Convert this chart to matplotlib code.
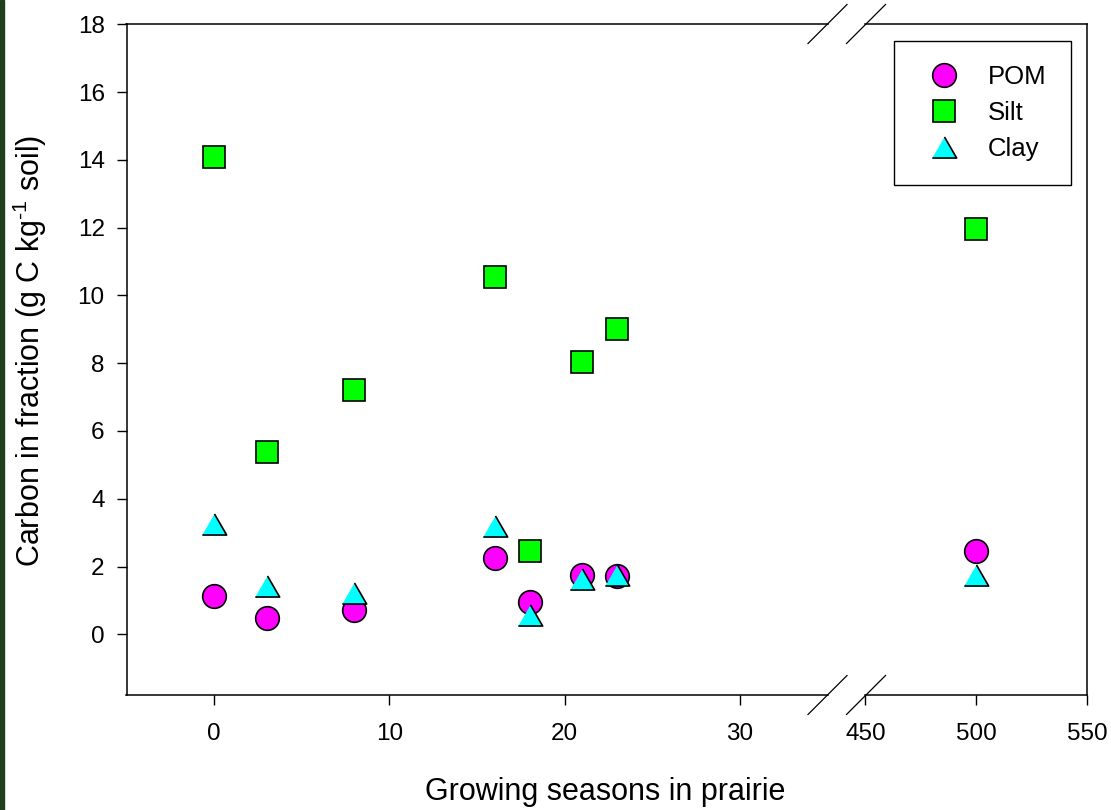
import matplotlib
matplotlib.use("Agg")
import matplotlib.pyplot as plt
from matplotlib.lines import Line2D
from matplotlib.patches import Rectangle

plt.rcParams['font.family'] = ['Liberation Sans', 'DejaVu Sans']
plt.rcParams['mathtext.fontset'] = 'custom'
plt.rcParams['mathtext.rm'] = 'Liberation Sans'
plt.rcParams['mathtext.default'] = 'regular'

# data
seasons = [0, 3, 8, 16, 18, 21, 23, 500]
pom = [1.14, 0.49, 0.71, 2.26, 0.95, 1.74, 1.71, 2.47]
silt = [14.09, 5.37, 7.22, 10.53, 2.45, 8.05, 9.01, 11.96]
clay = [3.26, 1.44, 1.22, 3.20, 0.58, 1.63, 1.75, 1.74]

left_xticks = [0, 10, 20, 30]
right_xticks = [450, 500, 550]
yticks = [0, 2, 4, 6, 8, 10, 12, 14, 16, 18]

W, H = 1111, 810
fig = plt.figure(figsize=(W / 100, H / 100), dpi=100)


def fx(px):
    return px / W


def fy(py):
    return 1 - py / H


top, bottom = 24.3, 695
ax1 = fig.add_axes([fx(126.5), fy(bottom), fx(827.5 - 126.5), (bottom - top) / H])
ax2 = fig.add_axes([fx(865.5), fy(bottom), fx(1087 - 865.5), (bottom - top) / H])

# equilateral-ish triangle marker
tri = [(-1, -0.866), (1, -0.866), (0, 0.866)]

series = [
    ("POM", pom, 'o', '#ff00ff', 17),
    ("Silt", silt, 's', '#00ff00', 15.5),
    ("Clay", clay, tri, '#00ffff', 17.5),
]

for ax in (ax1, ax2):
    for name, vals, mk, col, ms in series:
        ax.plot(seasons, vals, ls='none', marker=mk, ms=ms, mfc=col,
                mec='black', mew=1.2, label=name)
    ax.set_ylim(-1.79, 18)
    for s in ax.spines.values():
        s.set_linewidth(1.1)
    ax.tick_params(direction='out', length=7.2, width=1.0, labelsize=17.5)
    ax.tick_params(axis='x', pad=13)

ax1.set_xlim(-5, 35)
ax1.set_xticks(left_xticks)
ax1.set_yticks(yticks)
ax1.tick_params(axis='y', pad=8.5)
ax1.spines['right'].set_visible(False)

ax2.set_xlim(450, 550)
ax2.set_xticks(right_xticks)
ax2.spines['left'].set_visible(False)
ax2.tick_params(axis='y', left=False, labelleft=False)

ax1.set_ylabel(r"Carbon in fraction (g C kg$^{\text{-}1}$ soil)", fontsize=22)
ax1.yaxis.set_label_coords(fx(49), fy(351), transform=fig.transFigure)
fig.text(fx(605.5), fy(800), "Growing seasons in prairie", ha='center',
         va='baseline', fontsize=22)

leg = ax2.legend(loc='upper right', bbox_to_anchor=(fx(1071), fy(41)),
                 bbox_transform=fig.transFigure, fontsize=18.5, frameon=True,
                 fancybox=False, framealpha=1, edgecolor='black',
                 borderpad=0.95, labelspacing=0.46, handlelength=2.0,
                 handletextpad=0.7, borderaxespad=0, numpoints=1)
leg.get_frame().set_linewidth(1.0)

# axis break marks
for cx in (827.5, 866):
    for cy in (24, 695):
        fig.add_artist(Line2D([fx(cx - 19.5), fx(cx + 19.5)],
                              [fy(cy + 19.5), fy(cy - 19.5)],
                              color='black', lw=0.9))

# dark strip on the left edge
fig.patches.append(Rectangle((0, 0), fx(4), 1, transform=fig.transFigure,
                             color='#1f3f1f', zorder=0))

fig.savefig("out.png", dpi=100)
